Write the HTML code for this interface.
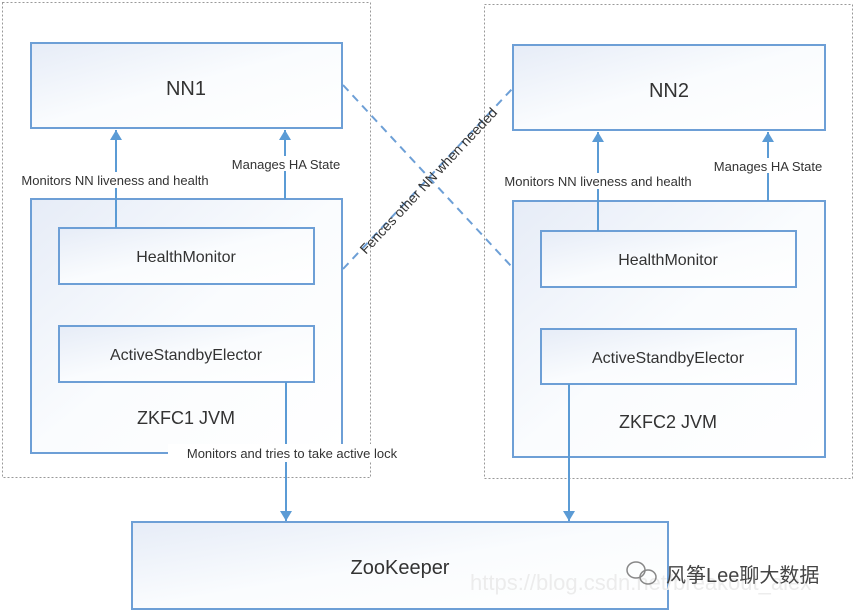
<!DOCTYPE html>
<html><head><meta charset="utf-8"><style>
body{margin:0;background:#fff;}
svg{display:block}
text{font-family:"Liberation Sans","Noto Sans CJK SC",sans-serif;fill:#333;}
</style></head><body>
<svg width="855" height="612" xmlns="http://www.w3.org/2000/svg">
<defs>
<linearGradient id="g" x1="0" y1="0" x2="1" y2="1">
<stop offset="0" stop-color="#e6ecf7"/><stop offset="0.5" stop-color="#fafcfe"/><stop offset="1" stop-color="#ffffff"/>
</linearGradient>
<marker id="a" markerWidth="12" markerHeight="12" refX="10" refY="6" orient="auto" markerUnits="userSpaceOnUse">
<path d="M0,0 L10,6 L0,12 Z" fill="#5b9bd5"/></marker>
</defs>
<rect x="2.5" y="2.5" width="368" height="475" fill="none" stroke="#999" stroke-dasharray="2,2"/>
<rect x="484.5" y="4.5" width="368" height="474" fill="none" stroke="#999" stroke-dasharray="2,2"/>
<g stroke="#6d9fd6" stroke-width="2" fill="url(#g)">
<rect x="31" y="43" width="311" height="85"/>
<rect x="31" y="199" width="311" height="254"/>
<rect x="59" y="228" width="255" height="56"/>
<rect x="59" y="326" width="255" height="56"/>
<rect x="513" y="45" width="312" height="85"/>
<rect x="513" y="201" width="312" height="256"/>
<rect x="541" y="231" width="255" height="56"/>
<rect x="541" y="329" width="255" height="55"/>
<rect x="132" y="522" width="536" height="87"/>
</g>
<g stroke="#6d9fd6" stroke-width="2" fill="none" stroke-dasharray="8,6">
<line x1="343" y1="85" x2="512" y2="267"/>
<line x1="343" y1="269" x2="512" y2="89"/>
</g>
<g stroke="#5b9bd5" stroke-width="2" fill="none">
<line x1="116" y1="228" x2="116" y2="130" marker-end="url(#a)"/>
<line x1="285" y1="199" x2="285" y2="130" marker-end="url(#a)"/>
<line x1="598" y1="231" x2="598" y2="132" marker-end="url(#a)"/>
<line x1="768" y1="201" x2="768" y2="132" marker-end="url(#a)"/>
<line x1="286" y1="382" x2="286" y2="521" marker-end="url(#a)"/>
<line x1="569" y1="384" x2="569" y2="521" marker-end="url(#a)"/>
</g>
<rect x="168" y="444" width="248" height="18" fill="#fff"/>
<rect x="8" y="172" width="214" height="16" fill="#fff"/>
<rect x="490" y="173" width="214" height="16" fill="#fff"/>
<rect x="226" y="156" width="120" height="15" fill="#fff"/>
<rect x="708" y="158" width="122" height="15" fill="#fff"/>
<text x="186" y="95" font-size="20" text-anchor="middle">NN1</text>
<text x="669" y="97" font-size="20" text-anchor="middle">NN2</text>
<text x="186" y="262" font-size="16" text-anchor="middle">HealthMonitor</text>
<text x="186" y="360" font-size="16" text-anchor="middle">ActiveStandbyElector</text>
<text x="668" y="265" font-size="16" text-anchor="middle">HealthMonitor</text>
<text x="668" y="363" font-size="16" text-anchor="middle">ActiveStandbyElector</text>
<text x="186" y="424" font-size="18" text-anchor="middle">ZKFC1 JVM</text>
<text x="668" y="428" font-size="18" text-anchor="middle">ZKFC2 JVM</text>
<text x="400" y="574" font-size="20" text-anchor="middle">ZooKeeper</text>
<text x="115" y="185" font-size="13" text-anchor="middle">Monitors NN liveness and health</text>
<text x="286" y="169" font-size="13" text-anchor="middle">Manages HA State</text>
<text x="598" y="186" font-size="13" text-anchor="middle">Monitors NN liveness and health</text>
<text x="768" y="171" font-size="13" text-anchor="middle">Manages HA State</text>
<text x="292" y="458" font-size="13" text-anchor="middle">Monitors and tries to take active lock</text>
<text transform="translate(432,184) rotate(-47)" font-size="14" text-anchor="middle">Fences other NN when needed</text>
<text x="470" y="590" font-size="22" style="fill:#ececec">https://blog.csdn.net/breakout_alex</text>
<g fill="none" stroke="#888" stroke-width="1.5"><ellipse cx="636" cy="570" rx="9" ry="8"/><ellipse cx="648" cy="577" rx="8" ry="7"/></g>
<text x="666" y="582" font-size="20" style="fill:#444">风筝Lee聊大数据</text>
</svg>
</body></html>
